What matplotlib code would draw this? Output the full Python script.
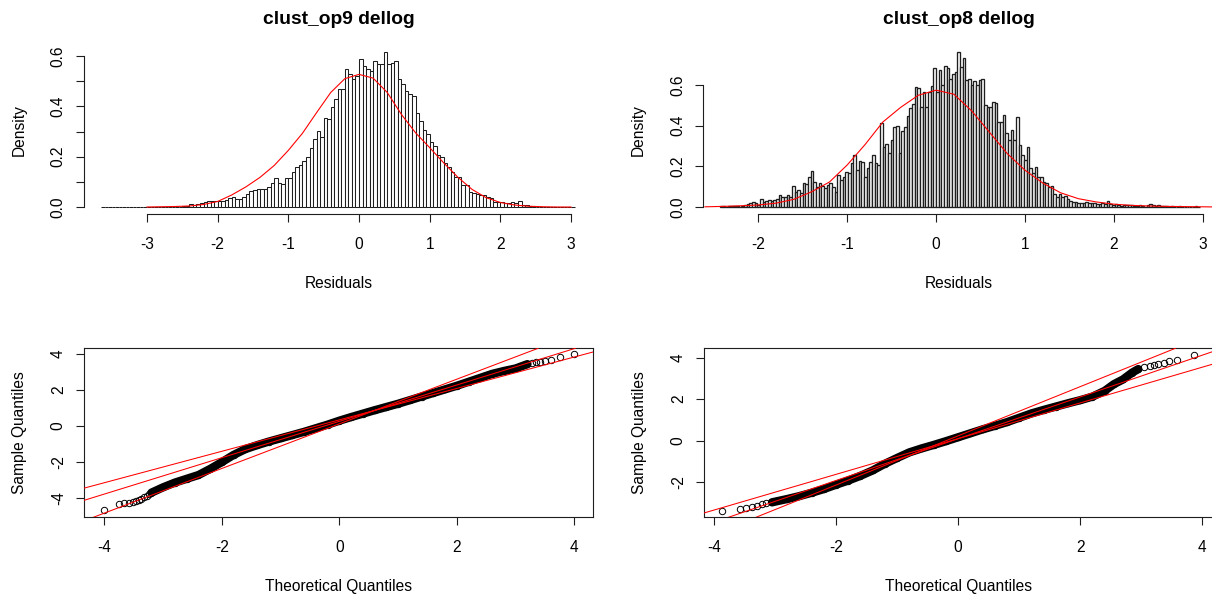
import numpy as np
import matplotlib
matplotlib.use("Agg")
import matplotlib.pyplot as plt

plt.rcParams['font.family'] = ['Liberation Sans', 'DejaVu Sans']
plt.rcParams['axes.unicode_minus'] = False

W, H, DPI = 1212, 599, 100
INK = '#1e1e1e'

# ---- residual histograms (density per bin) ----
op9_bin_start = -3.65
op9_bin_width = 0.05
op9_density = [
    0, 0, 0, 0, 0, 0, 0, 0, 0, 0, 0, 0, 0, 0, 0, 0, 0, 0, 0, 0, 0, 0, 0,
    0.004, 0.005, 0.010, 0.007, 0.010, 0.015, 0.020, 0.025, 0.022, 0.025,
    0.025, 0.025, 0.028, 0.034, 0.038, 0.033, 0.033, 0.041, 0.052, 0.065,
    0.067, 0.070, 0.070, 0.073, 0.081, 0.097, 0.116, 0.097, 0.091, 0.116,
    0.114, 0.140, 0.160, 0.165, 0.183, 0.200, 0.233, 0.270, 0.303, 0.280,
    0.353, 0.350, 0.398, 0.430, 0.467, 0.470, 0.550, 0.530, 0.510, 0.520,
    0.590, 0.560, 0.550, 0.540, 0.580, 0.570, 0.570, 0.616, 0.570, 0.572,
    0.580, 0.507, 0.490, 0.460, 0.450, 0.440, 0.374, 0.340, 0.305, 0.290,
    0.260, 0.242, 0.206, 0.200, 0.176, 0.160, 0.140, 0.120, 0.120, 0.087,
    0.087, 0.060, 0.057, 0.052, 0.046, 0.046, 0.038, 0.034, 0.021, 0.020,
    0.019, 0.017, 0.017, 0.020, 0.015, 0.022, 0.009, 0.009, 0.005,
    0, 0, 0, 0, 0, 0, 0, 0, 0, 0, 0, 0,
]

op8_bin_start = -2.43
op8_bin_width = 0.03
op8_density = [
    0.005, 0.007, 0.000, 0.004, 0.007, 0.005, 0.007, 0.000, 0.004, 0.010,
    0.015, 0.018, 0.026, 0.018, 0.012, 0.038, 0.026, 0.030, 0.034, 0.031,
    0.035, 0.041, 0.059, 0.048, 0.050, 0.057, 0.051, 0.105, 0.075, 0.084,
    0.067, 0.116, 0.113, 0.149, 0.179, 0.125, 0.100, 0.116, 0.104, 0.092,
    0.108, 0.116, 0.100, 0.075, 0.157, 0.133, 0.146, 0.174, 0.169, 0.218,
    0.256, 0.182, 0.226, 0.223, 0.149, 0.190, 0.223, 0.256, 0.218, 0.207,
    0.411, 0.297, 0.310, 0.264, 0.330, 0.392, 0.398, 0.264, 0.375, 0.395,
    0.448, 0.485, 0.507, 0.592, 0.584, 0.490, 0.567, 0.493, 0.567, 0.595,
    0.682, 0.567, 0.674, 0.600, 0.693, 0.682, 0.628, 0.657, 0.666, 0.764,
    0.690, 0.731, 0.625, 0.628, 0.600, 0.620, 0.600, 0.625, 0.628, 0.500,
    0.492, 0.490, 0.518, 0.510, 0.420, 0.420, 0.452, 0.366, 0.330, 0.379,
    0.330, 0.444, 0.305, 0.256, 0.231, 0.297, 0.190, 0.166, 0.195, 0.149,
    0.149, 0.125, 0.116, 0.100, 0.103, 0.064, 0.051, 0.064, 0.051, 0.054,
    0.038, 0.028, 0.026, 0.026, 0.021, 0.018, 0.018, 0.026, 0.021, 0.018,
    0.018, 0.015, 0.015, 0.021, 0.015, 0.031, 0.015, 0.010, 0.015, 0.010,
    0.005, 0.010, 0.011, 0.011, 0.008, 0.003, 0.005, 0.008, 0.005, 0.000,
    0.012, 0.015, 0.010, 0.005, 0.010, 0.004, 0.006, 0.004, 0.000, 0.007,
    0.000, 0.000, 0.006, 0.000, 0.000, 0.000, 0.000, 0.000, 0.005, 0.000,
]

# fitted normal density overlays
op9_curve_x = [-3.0, -2.8, -2.6, -2.4, -2.2, -2.0, -1.8, -1.6, -1.4, -1.2, -1.0,
               -0.8, -0.6, -0.4, -0.2, 0.0, 0.2, 0.4, 0.6, 0.8, 1.0,
               1.2, 1.4, 1.6, 1.8, 2.0, 2.2, 2.4, 2.6, 2.8, 3.0]
op9_curve_y = [0.000, 0.001, 0.002, 0.004, 0.010, 0.022, 0.048, 0.080, 0.118, 0.165, 0.225,
               0.293, 0.375, 0.455, 0.510, 0.527, 0.512, 0.455, 0.368, 0.295, 0.236,
               0.175, 0.118, 0.070, 0.037, 0.018, 0.008, 0.003, 0.001, 0.000, 0.000]

op8_curve_x = [-2.6, -2.4, -2.2, -2.0, -1.8, -1.6, -1.4, -1.2, -1.0, -0.8,
               -0.6, -0.4, -0.2, 0.0, 0.2, 0.4, 0.6, 0.8, 1.0, 1.2,
               1.4, 1.6, 1.8, 2.0, 2.2, 2.4, 2.6, 2.8, 3.0, 3.2]
op8_curve_y = [0.001, 0.003, 0.006, 0.010, 0.019, 0.038, 0.075, 0.123, 0.207, 0.307,
               0.418, 0.490, 0.550, 0.575, 0.555, 0.473, 0.368, 0.263, 0.181, 0.118,
               0.070, 0.041, 0.025, 0.014, 0.008, 0.005, 0.003, 0.002, 0.001, 0.000]

# ---- normal Q-Q plots: theoretical vs sample quantiles ----
op9_qq_theo = [-4.00, -3.75, -3.66, -3.58, -3.52, -3.46, -3.41, -3.37, -3.32, -3.28, -3.24,
               -3.20, -3.00, -2.80, -2.60, -2.40, -2.20, -2.00, -1.80, -1.60, -1.40,
               -1.20, -1.00, -0.80, -0.60, -0.40, -0.20, 0.00, 0.20, 0.40, 0.60,
               0.80, 1.00, 1.20, 1.40, 1.60, 1.80, 2.00, 2.20, 2.40, 2.60,
               2.80, 3.00, 3.20,
               3.28, 3.35, 3.42, 3.50, 3.60, 3.75, 4.00]
op9_qq_sample = [-4.68, -4.36, -4.32, -4.30, -4.25, -4.20, -4.12, -4.05, -3.98, -3.90, -3.82,
                 -3.72, -3.42, -3.16, -2.95, -2.74, -2.40, -2.02, -1.62, -1.30, -1.08,
                 -0.88, -0.70, -0.52, -0.34, -0.14, 0.06, 0.28, 0.48, 0.67, 0.86,
                 1.04, 1.22, 1.42, 1.62, 1.82, 2.02, 2.22, 2.44, 2.66, 2.88,
                 3.04, 3.18, 3.42,
                 3.50, 3.54, 3.55, 3.57, 3.64, 3.82, 3.96]
op9_band = (-3.20, 3.20)
op9_qq_lines = [(1.240, 0.106), (1.010, 0.244), (0.873, 0.326)]  # slope, intercept

op8_qq_theo = [-3.87, -3.58, -3.47, -3.38, -3.30, -3.22, -3.14,
               -3.05, -2.80, -2.60, -2.40, -2.20, -2.00, -1.80, -1.60, -1.40,
               -1.20, -1.00, -0.80, -0.60, -0.40, -0.20, 0.00, 0.20, 0.40, 0.60,
               0.80, 1.00, 1.20, 1.40, 1.60, 1.80, 2.00, 2.20, 2.40, 2.55,
               2.70, 2.85, 2.95,
               3.05, 3.14, 3.21, 3.27, 3.37, 3.46, 3.59, 3.87]
op8_qq_sample = [-3.38, -3.30, -3.25, -3.22, -3.15, -3.08, -3.03,
                 -2.98, -2.82, -2.68, -2.52, -2.34, -2.13, -1.93, -1.70, -1.44,
                 -1.12, -0.84, -0.57, -0.38, -0.21, -0.03, 0.16, 0.35, 0.54, 0.71,
                 0.89, 1.10, 1.31, 1.48, 1.64, 1.80, 1.95, 2.12, 2.40, 2.72,
                 2.95, 3.28, 3.45,
                 3.54, 3.62, 3.66, 3.70, 3.75, 3.83, 3.90, 4.14]
op8_band = (-3.05, 2.95)
op8_qq_lines = [(1.187, 0.229), (1.008, 0.090), (0.862, 0.094)]

TICK_LEN = 6.1
LABEL_SIZE = 11.2
TITLE_SIZE = 13.9

fig = plt.figure(figsize=(W / DPI, H / DPI), dpi=DPI)


def add_panel(x0, x1, y0, y1):
    # box given in pixels from the top-left corner
    return fig.add_axes([x0 / W, 1 - y1 / H, (x1 - x0) / W, (y1 - y0) / H])


def style_axes(ax, box):
    for side in ['left', 'bottom', 'top', 'right']:
        ax.spines[side].set_color(INK)
        ax.spines[side].set_linewidth(0.8)
        if not box and side in ('top', 'right'):
            ax.spines[side].set_visible(False)
    ax.tick_params(direction='out', length=TICK_LEN, width=0.8, color=INK,
                   labelsize=LABEL_SIZE, labelcolor='black')
    ax.tick_params(axis='x', pad=10.4)
    ax.tick_params(axis='y', pad=7.1)
    for lab in ax.get_yticklabels():
        lab.set_rotation(90)
        lab.set_va('center')


def add_labels(ax, xlabel, ylabel, width_px, height_px):
    ax.set_xlabel(xlabel, fontsize=LABEL_SIZE)
    ax.xaxis.set_label_coords(0.5, -74 / height_px)
    ax.xaxis.label.set_va('baseline')
    ax.set_ylabel(ylabel, fontsize=LABEL_SIZE)
    ax.yaxis.set_label_coords(-65 / width_px, 0.5)
    ax.yaxis.label.set_va('center')


def draw_hist(ax, start, width, density, curve_x, curve_y, edge_lw):
    left = start + width * np.arange(len(density))
    ax.bar(left, density, width=width, align='edge', color='white',
           edgecolor=INK, linewidth=edge_lw, zorder=2)
    ax.plot(curve_x, curve_y, color='red', linewidth=0.8, zorder=3)


def draw_qq(ax, theo, sample, band, lines):
    theo = np.array(theo)
    sample = np.array(sample)
    inside = (theo >= band[0]) & (theo <= band[1])
    # the central points overlap so much that they read as one solid band
    ax.plot(theo[inside], sample[inside], color='black', linewidth=6.0,
            solid_capstyle='round', solid_joinstyle='round', zorder=2)
    ax.plot(theo, sample, 'o', mfc='none', mec='black', ms=4.6, mew=0.7, zorder=2)
    for slope, icpt in lines:
        ax.axline((0, icpt), slope=slope, color='red', linewidth=0.75, zorder=3)


# ---- top left: clust_op9 histogram ----
tl_box = (84.2, 592.6, 45.2, 214.0)
ax = add_panel(*tl_box)
draw_hist(ax, op9_bin_start, op9_bin_width, op9_density, op9_curve_x, op9_curve_y, 0.75)
ax.set_xlim(-3.889, 3.306)
ax.set_ylim(-0.0278, 0.6429)
ax.set_xticks([-3, -2, -1, 0, 1, 2, 3])
ax.set_xticklabels(['-3', '-2', '-1', '0', '1', '2', '3'])
ax.set_yticks([0, 0.1, 0.2, 0.3, 0.4, 0.5, 0.6])
ax.set_yticklabels(['0.0', '', '0.2', '', '0.4', '', '0.6'])
ax.spines['bottom'].set_bounds(-3, 3)
ax.spines['left'].set_bounds(0, 0.6)
style_axes(ax, box=False)
add_labels(ax, 'Residuals', 'Density', tl_box[1] - tl_box[0], tl_box[3] - tl_box[2])
ax.set_title('clust_op9 dellog', fontsize=TITLE_SIZE, fontweight='bold', pad=15.5)

# ---- top right: clust_op8 histogram ----
tr_box = (703.4, 1215.0, 45.2, 214.0)
ax = add_panel(*tr_box)
draw_hist(ax, op8_bin_start, op8_bin_width, op8_density, op8_curve_x, op8_curve_y, 0.95)
ax.set_xlim(-2.618, 3.137)
ax.set_ylim(-0.0344, 0.7963)
ax.set_xticks([-2, -1, 0, 1, 2, 3])
ax.set_xticklabels(['-2', '-1', '0', '1', '2', '3'])
ax.set_yticks([0, 0.2, 0.4, 0.6])
ax.set_yticklabels(['0.0', '0.2', '0.4', '0.6'])
ax.spines['bottom'].set_bounds(-2, 3)
ax.spines['left'].set_bounds(0, 0.6)
style_axes(ax, box=False)
add_labels(ax, 'Residuals', 'Density', tr_box[1] - tr_box[0], tr_box[3] - tr_box[2])
ax.set_title('clust_op8 dellog', fontsize=TITLE_SIZE, fontweight='bold', pad=15.5)

# ---- bottom left: Q-Q for clust_op9 ----
bl_box = (84.2, 592.6, 348.3, 517.3)
ax = add_panel(*bl_box)
draw_qq(ax, op9_qq_theo, op9_qq_sample, op9_band, op9_qq_lines)
ax.set_xlim(-4.345, 4.310)
ax.set_ylim(-5.089, 4.300)
ax.set_xticks([-4, -2, 0, 2, 4])
ax.set_xticklabels(['-4', '-2', '0', '2', '4'])
ax.set_yticks([-4, -2, 0, 2, 4])
ax.set_yticklabels(['-4', '-2', '0', '2', '4'])
style_axes(ax, box=True)
add_labels(ax, 'Theoretical Quantiles', 'Sample Quantiles',
           bl_box[1] - bl_box[0], bl_box[3] - bl_box[2])

# ---- bottom right: Q-Q for clust_op8 ----
br_box = (704.2, 1212.6, 348.3, 517.3)
ax = add_panel(*br_box)
draw_qq(ax, op8_qq_theo, op8_qq_sample, op8_band, op8_qq_lines)
ax.set_xlim(-4.160, 4.168)
ax.set_ylim(-3.703, 4.453)
ax.set_xticks([-4, -2, 0, 2, 4])
ax.set_xticklabels(['-4', '-2', '0', '2', '4'])
ax.set_yticks([-2, 0, 2, 4])
ax.set_yticklabels(['-2', '0', '2', '4'])
style_axes(ax, box=True)
add_labels(ax, 'Theoretical Quantiles', 'Sample Quantiles',
           br_box[1] - br_box[0], br_box[3] - br_box[2])

fig.savefig('out.png', dpi=DPI, facecolor='white')
